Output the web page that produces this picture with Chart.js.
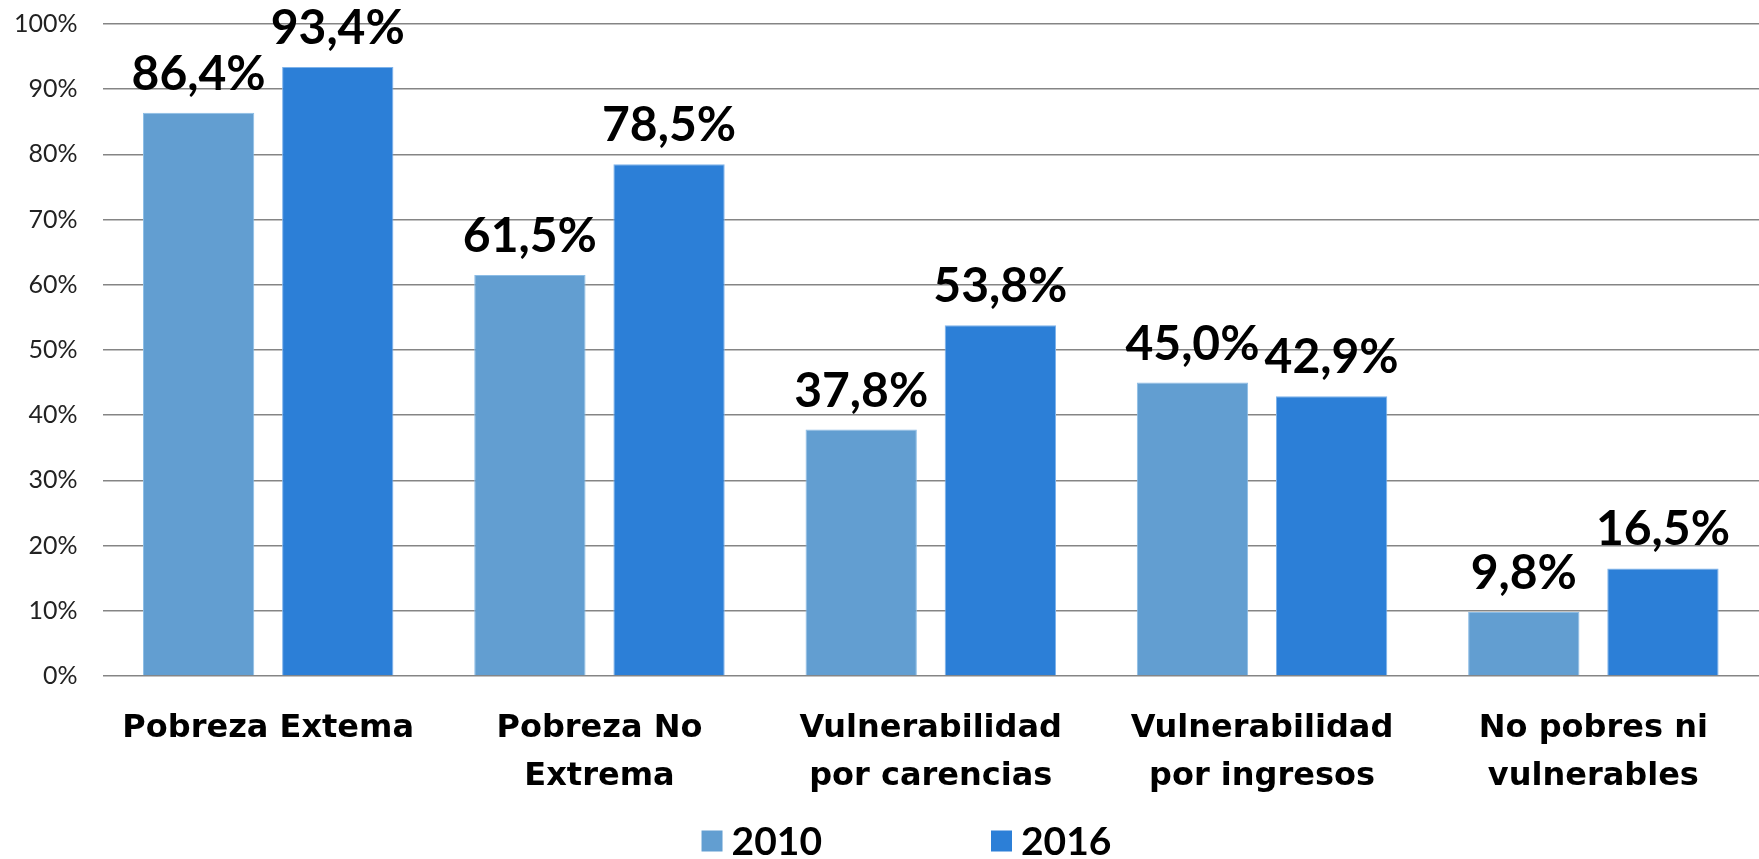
<!DOCTYPE html>
<html>
<head>
<meta charset="utf-8">
<script src="https://cdn.jsdelivr.net/npm/chart.js@4.4.0/dist/chart.umd.min.js"></script>
<style>
html, body { margin: 0; padding: 0; background: #fff; }
</style>
</head>
<body>
<canvas id="pobreza" width="1759" height="859"></canvas>
<script>
/* datos */
var categorias = [
    ['Pobreza Extema'],
    ['Pobreza No', 'Extrema'],
    ['Vulnerabilidad', 'por carencias'],
    ['Vulnerabilidad', 'por ingresos'],
    ['No pobres ni', 'vulnerables']
];
var anios = ['2010', '2016'];
var valores2010 = [86.4, 61.5, 37.8, 45.0, 9.8];
var valores2016 = [93.4, 78.5, 53.8, 42.9, 16.5];
var ticksY = [0, 10, 20, 30, 40, 50, 60, 70, 80, 90, 100];

function fmt(v) {
    return v.toFixed(1).replace('.', ',') + '%';
}

/* etiquetas encima de las barras */
var etiquetas = {
    id: 'etiquetas',
    afterDatasetsDraw: function (chart) {
        var ctx = chart.ctx;
        ctx.save();
        ctx.font = 'bold 48px Lato';
        ctx.fillStyle = '#000';
        ctx.textAlign = 'center';
        ctx.textBaseline = 'alphabetic';
        chart.data.datasets.forEach(function (ds, i) {
            var meta = chart.getDatasetMeta(i);
            meta.data.forEach(function (bar, j) {
                ctx.fillText(fmt(ds.data[j]), bar.x, bar.y - 23);
            });
        });
        ctx.restore();
    }
};

/* leyenda abajo, con mucho espacio entre los dos años */
var leyenda = {
    id: 'leyenda',
    afterDraw: function (chart) {
        var ctx = chart.ctx;
        var caja = 21, hueco = 9, entre = 169;
        ctx.save();
        ctx.font = 'bold 39px Lato';
        ctx.textBaseline = 'middle';
        ctx.textAlign = 'left';
        var total = 0;
        chart.data.datasets.forEach(function (ds, i) {
            total += caja + hueco + ctx.measureText(ds.label).width;
            if (i > 0) total += entre;
        });
        var x = chart.width / 2 + 27 - total / 2;
        var y = 841;
        chart.data.datasets.forEach(function (ds) {
            ctx.fillStyle = ds.backgroundColor;
            ctx.fillRect(x, y - caja / 2, caja, caja);
            x += caja + hueco;
            ctx.fillStyle = '#000';
            ctx.fillText(ds.label, x, y + 1);
            x += ctx.measureText(ds.label).width + entre;
        });
        ctx.restore();
    }
};

var ctx = document.getElementById('pobreza').getContext('2d');
var myChart = new Chart(ctx, {
    type: 'bar',
    data: {
        labels: categorias,
        datasets: [{
            label: anios[0],
            data: valores2010,
            backgroundColor: '#629ed1',
            borderColor: '#8cbde6',
            borderWidth: 1
        }, {
            label: anios[1],
            data: valores2016,
            backgroundColor: '#2c7fd7',
            borderColor: '#7fb3ea',
            borderWidth: 1
        }]
    },
    options: {
        responsive: false,
        animation: false,
        layout: {
            padding: { left: -11, top: 24, right: 0, bottom: 37 }
        },
        datasets: {
            bar: { categoryPercentage: 0.84, barPercentage: 0.8 }
        },
        plugins: {
            tooltip: { enabled: false },
            legend: { display: false }
        },
        scales: {
            x: {
                grid: { display: false },
                border: { display: false },
                ticks: {
                    color: '#000',
                    padding: 21,
                    maxRotation: 0,
                    font: { family: 'DejaVu Sans', size: 32, weight: 'bold', lineHeight: 1.5 }
                }
            },
            y: {
                min: 0,
                max: 100,
                afterBuildTicks: function (axis) {
                    axis.ticks = ticksY.map(function (v) { return { value: v }; });
                },
                afterFit: function (axis) {
                    // el 100% va casi pegado arriba
                    axis.paddingTop = 0;
                },
                grid: { color: '#858585', lineWidth: 1.5, drawTicks: false },
                border: { display: false },
                ticks: {
                    color: '#222',
                    padding: 25,
                    font: { family: 'Lato', size: 25 },
                    callback: function (v) { return v + '%'; }
                }
            }
        }
    },
    plugins: [etiquetas, leyenda]
});
</script>
</body>
</html>
